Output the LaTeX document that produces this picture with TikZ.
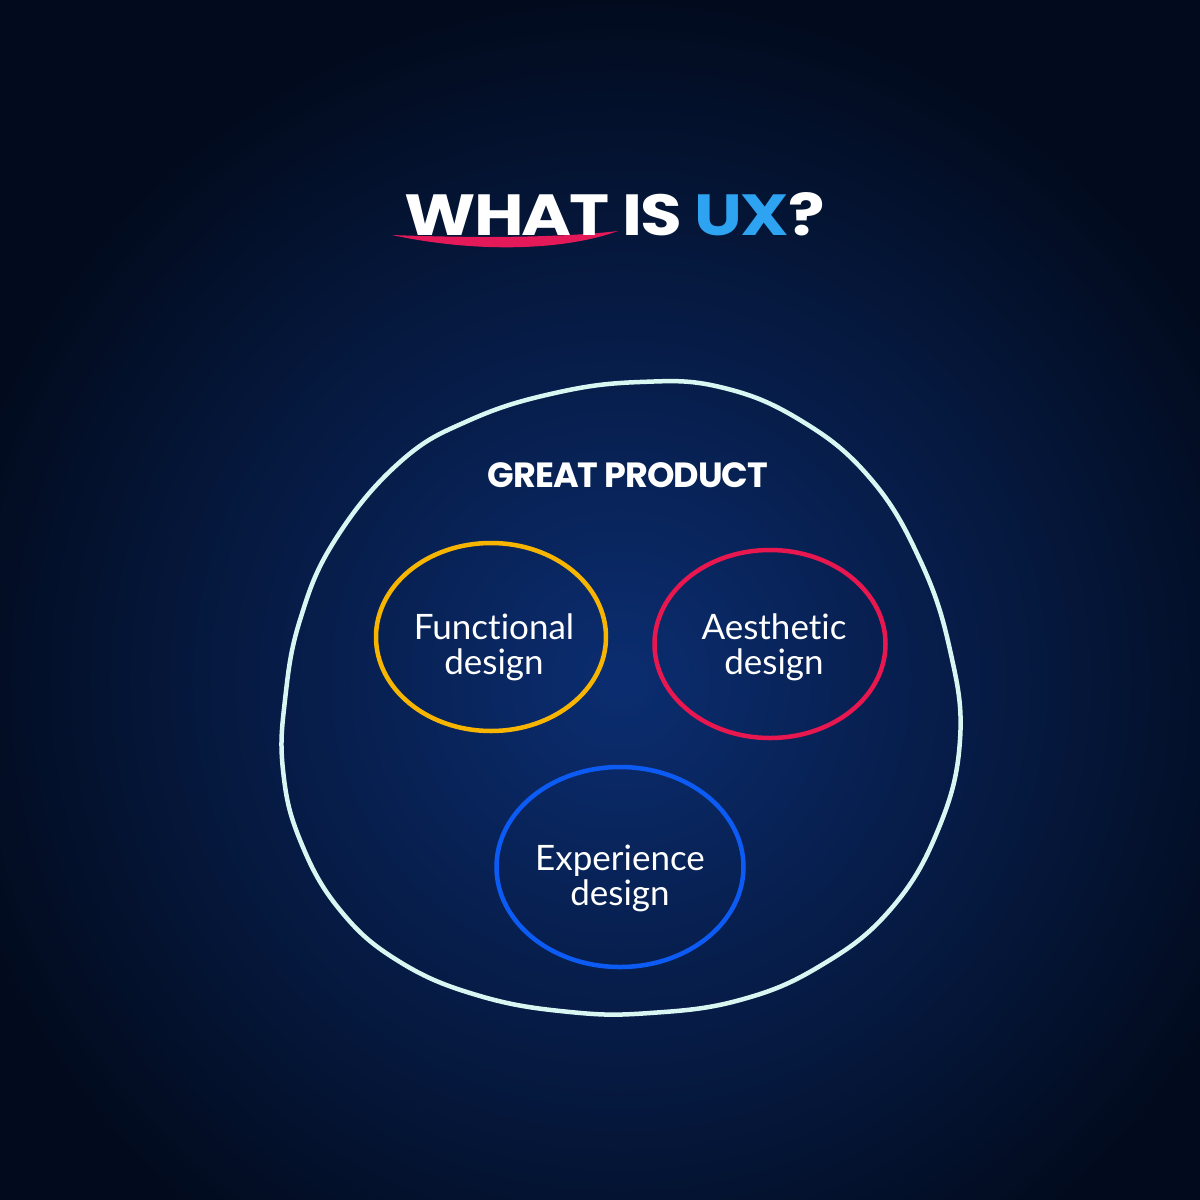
\documentclass[tikz,border=0pt]{standalone}
\usepackage{fontspec}
\usepackage{graphicx}
\newfontfamily\titlefont{Poppins}[LetterSpace=-3]
\newfontfamily\labelfont{Lato}[Ligatures={NoCommon}]
\usetikzlibrary{shapes.geometric}
\definecolor{bgdark}{HTML}{020B1E}
\definecolor{bgmid}{HTML}{0B2D70}
\definecolor{mint}{HTML}{D9F7F2}
\definecolor{uxblue}{HTML}{2EA3F2}
\definecolor{swoosh}{HTML}{E3195A}
\definecolor{ringyellow}{HTML}{F7B500}
\definecolor{ringred}{HTML}{E8174F}
\definecolor{ringblue}{HTML}{0D5BF5}
\tikzset{
  ring/.style={ellipse, line width=4.5pt, inner sep=0pt},
  lbl/.style={text=white, align=center, font=\labelfont\fontsize{35}{35}\selectfont},
}
\begin{document}
\begin{tikzpicture}[x=1pt,y=-1pt]
\useasboundingbox (0,0) rectangle (1200,1200);
\fill[bgdark] (0,0) rectangle (1200,1200);
\shade[inner color=bgmid, outer color=bgdark] (620,680) circle (680);
% title
\fill[swoosh] (392,235) .. controls (470,252) and (560,252) .. (618,231)
   .. controls (560,238) and (470,238) .. cycle;
\node[anchor=base, text=white, font=\titlefont\bfseries\fontsize{58}{60}\selectfont] (title) at (615,235) {\scalebox{1.17}[1]{WHAT IS \textcolor{uxblue}{UX}?}};
% big circle
\draw[mint, line width=4.5pt, line join=round] plot[smooth cycle, tension=0.7] coordinates {
 (470,420) (400,462) (335,540) (300,620) (285,700) (283,770) (300,840) (340,910)
 (400,962) (480,996) (570,1012) (650,1013) (740,1000) (820,966) (890,910) (938,830)
 (960,740) (950,650) (920,560) (870,478) (800,420) (720,387) (640,382) (555,393)};
\node[anchor=base, text=white, font=\titlefont\bfseries\fontsize{35}{37}\selectfont] (great) at (628,487) {GREAT PRODUCT};
% rings
\node[ring, draw=ringyellow, minimum width=230pt, minimum height=188pt] (func) at (491,637) {};
\node[ring, draw=ringred, minimum width=231pt, minimum height=188pt] (aest) at (770,644) {};
\node[ring, draw=ringblue, minimum width=247pt, minimum height=200pt] (expe) at (620,867) {};
\node[lbl] (functxt) at (494,647) {Functional\\design};
\node[lbl] (aesttxt) at (774,647) {Aesthetic\\design};
\node[lbl] (expetxt) at (620,878) {Experience\\design};
\end{tikzpicture}
\end{document}
